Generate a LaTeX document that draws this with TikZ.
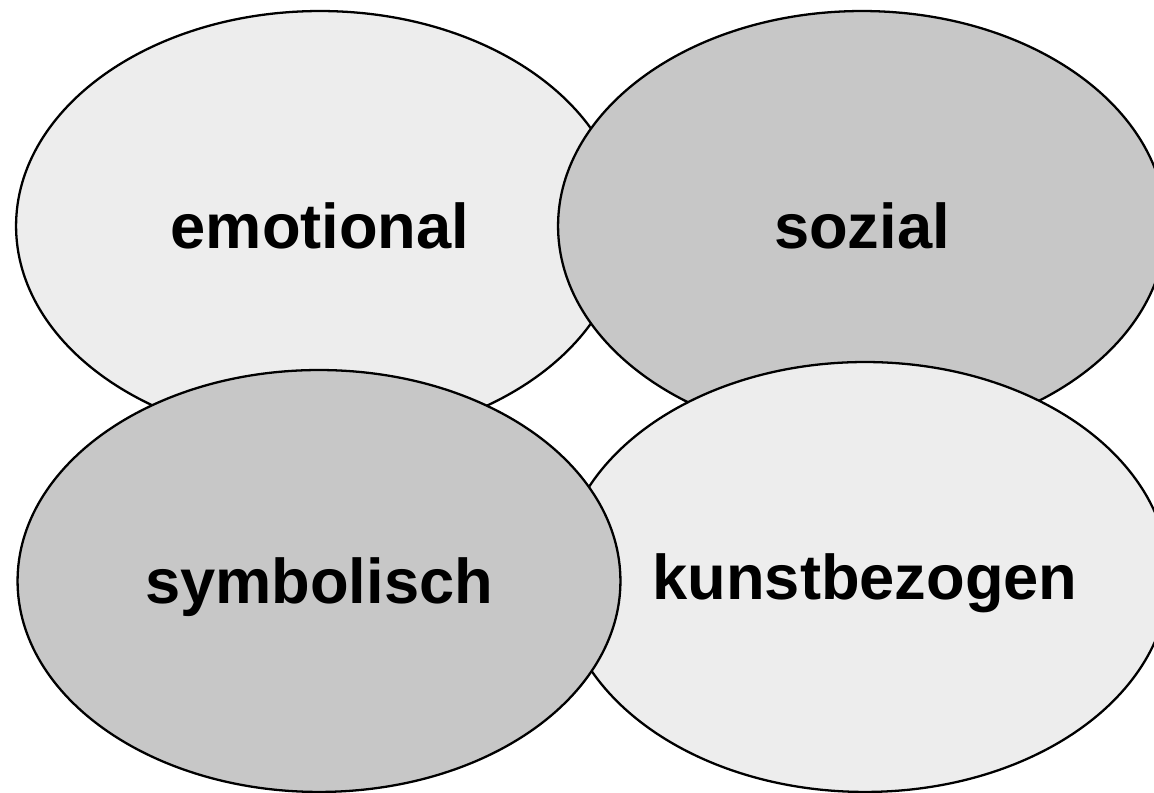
\documentclass[tikz,border=0pt]{standalone}
\usepackage{fontspec}
\setmainfont{Liberation Sans}
\usetikzlibrary{shapes.geometric}
\begin{document}
\begin{tikzpicture}[x=0.02cm, y=0.02cm,
  bubble/.style={ellipse, draw=black, line width=1.3pt, inner sep=0pt,
    minimum width=12.16cm, minimum height=8.6cm, text depth=0pt,
    font=\fontsize{36}{40}\selectfont\bfseries},
  hell/.style={bubble, fill=black!7},
  dunkel/.style={bubble, fill=black!22}]
\def\W{1154}
\def\H{793}
% Bildausschnitt (Ellipsen rechts angeschnitten)
\clip (0,0) rectangle (\W,\H);
% Reihenfolge: oben links, oben rechts, unten rechts, unten links
\node[hell]   (emo)   at (320,567) {emotional};
\node[dunkel] (soz)   at (862,567) {sozial};
\node[hell]   (kunst) at (865,216) {kunstbezogen};
\node[dunkel, minimum width=12.06cm, minimum height=8.44cm] (sym) at (319,212) {symbolisch};
\end{tikzpicture}
\end{document}
